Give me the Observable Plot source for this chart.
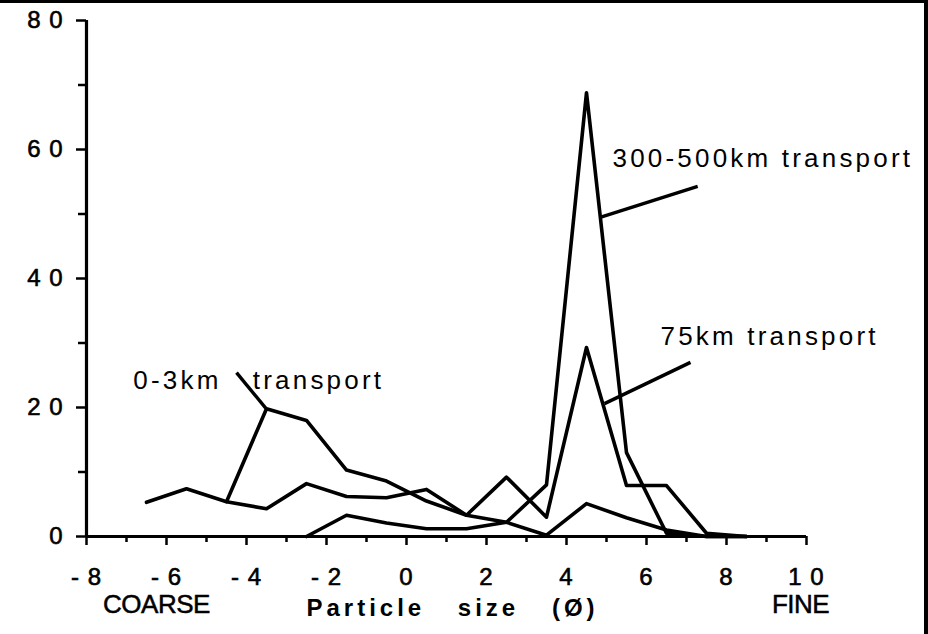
<!DOCTYPE html>
<html>
<head>
<meta charset="utf-8">
<script src="https://cdn.jsdelivr.net/npm/d3@7"></script>
<script src="https://cdn.jsdelivr.net/npm/@observablehq/plot@0.6"></script>
<style>
  html, body { margin: 0; padding: 0; background: #fff; }
  #wrap { position: relative; width: 928px; height: 634px; }
  #border { position: absolute; left: 0; top: 0; width: 928px; height: 634px; box-sizing: border-box;
            border-top: 3px solid #000; border-right: 4px solid #000; pointer-events: none; }
  svg text { white-space: pre; }
</style>
</head>
<body>
<div id="wrap"><div id="border"></div></div>
<script>
// Particle size (phi) class midpoints and percentages per series
const phi03 = [-6.5, -5.5, -4.5, -3.5, -2.5, -1.5, -0.5, 0.5, 1.5, 2.5, 3.5, 4.5, 5.5, 6.5, 7.5, 8.5];
const pct03 = [5.3, 7.4, 5.4, 19.8, 18.0, 10.3, 8.6, 5.5, 3.3, 2.2, 0.2, 5.1, 2.9, 1.0, 0, 0];

const phi75 = [-4.5, -3.5, -2.5, -1.5, -0.5, 0.5, 1.5, 2.5, 3.5, 4.5, 5.5, 6.5, 7.5, 8.5];
const pct75 = [5.4, 4.3, 8.2, 6.2, 6.0, 7.3, 3.3, 9.2, 3.0, 29.3, 7.9, 7.9, 0.5, 0];

const phi300 = [-2.5, -1.5, -0.5, 0.5, 1.5, 2.5, 3.5, 4.5, 5.5, 6.5, 7.5, 8.5];
const pct300 = [0, 3.3, 2.1, 1.2, 1.2, 2.2, 8.0, 68.8, 13.0, 0.5, 0, 0];

const seriesNames = ["0-3km transport", "75km transport", "300-500km transport"];

// Axis ticks and labels
const xMajorTicks = [-8, -6, -4, -2, 0, 2, 4, 6, 8, 10];
const xMajorLabels = ["- 8", "- 6", "- 4", "- 2", "0", "2", "4", "6", "8", "1 0"];
const xMinorTicks = [-7, -5, -3, -1, 1, 3, 5, 7, 9];
const yMajorTicks = [0, 20, 40, 60, 80];
const yMajorLabels = ["0", "2 0", "4 0", "6 0", "8 0"];
const yMinorTicks = [10, 30, 50, 70];

// Annotations (in data coordinates)
const labelTexts = ["300-500km transport", "75km transport", "0-3km   transport"];
const labelX = [5.15, 6.35, -6.83];
const labelY = [58.6, 31.0, 24.2];
const leaderX1 = [4.86, 4.95, -3.52];
const leaderY1 = [49.5, 20.6, 19.9];
const leaderX2 = [7.28, 7.1, -4.25];
const leaderY2 = [54.3, 27.0, 25.4];

const endTexts = ["COARSE", "FINE"];
const endX = [-6.25, 9.85];
const axisTitle = ["Particle size (Ø)"];
const axisTitleX = [1.15];

const rows = [];
[[phi03, pct03], [phi75, pct75], [phi300, pct300]].forEach(([xs, ys], i) =>
  xs.forEach((x, j) => rows.push({series: seriesNames[i], phi: x, pct: ys[j]})));

const labels = labelTexts.map((t, i) => ({text: t, x: labelX[i], y: labelY[i]}));
const leaders = leaderX1.map((_, i) => ({x1: leaderX1[i], y1: leaderY1[i], x2: leaderX2[i], y2: leaderY2[i]}));
const ends = endTexts.map((t, i) => ({text: t, x: endX[i]}));
const titles = axisTitle.map((t, i) => ({text: t, x: axisTitleX[i]}));

const chart = Plot.plot({
  width: 928,
  height: 634,
  marginLeft: 86,
  marginRight: 122,
  marginTop: 20,
  marginBottom: 98,
  x: {domain: [-8, 10]},
  y: {domain: [0, 80]},
  style: {fontFamily: "'Liberation Sans', Arial, Helvetica, sans-serif", background: "white", color: "black"},
  marks: [
    Plot.axisY({ticks: yMajorTicks, tickSize: 10, tickPadding: 13, strokeWidth: 2.5,
      tickFormat: d => yMajorLabels[yMajorTicks.indexOf(d)], fontSize: 24, label: null}),
    Plot.axisY({ticks: yMinorTicks, tickSize: 8, strokeWidth: 2.5, tickFormat: () => "", label: null}),
    Plot.axisX({ticks: xMajorTicks, tickSize: 9, tickPadding: 22, strokeWidth: 2.5,
      tickFormat: d => xMajorLabels[xMajorTicks.indexOf(d)], fontSize: 24, label: null}),
    Plot.axisX({ticks: xMinorTicks, tickSize: 6, strokeWidth: 2.5, tickFormat: () => "", label: null}),
    Plot.ruleY([0], {x1: -8, x2: 10, strokeWidth: 3.2}),
    Plot.ruleX([-8], {y1: 0, y2: 80, strokeWidth: 3.2}),
    Plot.line(rows, {x: "phi", y: "pct", z: "series", stroke: "black", strokeWidth: 3.6, strokeLinejoin: "round"}),
    Plot.link(leaders, {x1: "x1", y1: "y1", x2: "x2", y2: "y2", stroke: "black", strokeWidth: 3.4}),
    Plot.text(labels, {x: "x", y: "y", text: "text", textAnchor: "start", fontSize: 26}),
    Plot.text(ends, {x: "x", text: "text", frameAnchor: "bottom", dy: 76, fontSize: 26}),
    Plot.text(titles, {x: "x", text: "text", frameAnchor: "bottom", dy: 79, fontSize: 24})
  ]
});

// Typographic touches matching the scanned original
chart.querySelectorAll("text").forEach(t => {
  const s = t.textContent;
  if (labelTexts.includes(s)) {
    t.style.letterSpacing = "3.2px";
  } else if (axisTitle.includes(s)) {
    t.style.fontWeight = "bold";
    t.style.letterSpacing = "4px";
    t.style.wordSpacing = "22px";
  } else if (endTexts.includes(s)) {
    t.style.letterSpacing = "-0.5px";
    t.setAttribute("stroke", "black");
    t.setAttribute("stroke-width", "0.5");
  } else if (xMajorLabels.includes(s) || yMajorLabels.includes(s)) {
    t.style.letterSpacing = "1px";
    t.setAttribute("stroke", "black");
    t.setAttribute("stroke-width", "0.6");
  }
});
document.getElementById("wrap").prepend(chart);
</script>
</body>
</html>
